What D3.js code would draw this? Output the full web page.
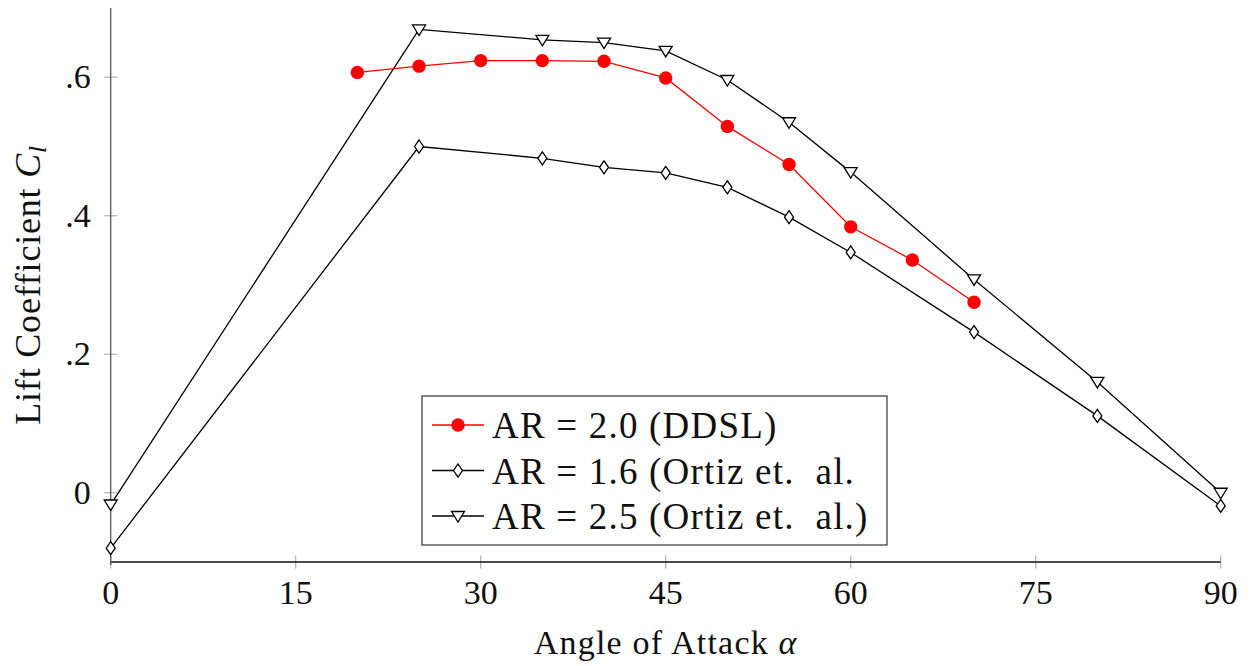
<!DOCTYPE html>
<html>
<head>
<meta charset="utf-8">
<script src="https://cdn.jsdelivr.net/npm/d3@7"></script>
<style>
  body { margin: 0; background: #fff; }
  svg { display: block; font-family: "Liberation Serif", "DejaVu Serif", serif; }
</style>
</head>
<body>
<div id="chart"></div>
<script>
const ddslAngles = [20, 25, 30, 35, 40, 45, 50, 55, 60, 65, 70];
const ddslCl = [0.607, 0.616, 0.624, 0.624, 0.623, 0.599, 0.529, 0.474, 0.384, 0.336, 0.275];

const ortizAngles = [0, 25, 35, 40, 45, 50, 55, 60, 70, 80, 90];
const ortiz16Cl = [-0.080, 0.500, 0.483, 0.470, 0.462, 0.441, 0.398, 0.347, 0.232, 0.111, -0.019];
const ortiz25Cl = [-0.017, 0.669, 0.654, 0.650, 0.638, 0.596, 0.535, 0.463, 0.308, 0.160, 0.000];

const seriesNames = ["AR = 2.0 (DDSL)", "AR = 1.6 (Ortiz et.  al.", "AR = 2.5 (Ortiz et.  al.)"];
const xTicks = [0, 15, 30, 45, 60, 75, 90];
const yTicks = [0, 0.2, 0.4, 0.6];

async function draw() {

  const dimensions = {
    width: 1250,
    height: 666,
    margin: { top: 8, right: 29.3, bottom: 104, left: 110.7 }
  }
  dimensions.boundedWidth = dimensions.width - dimensions.margin.left - dimensions.margin.right;
  dimensions.boundedHeight = dimensions.height - dimensions.margin.top - dimensions.margin.bottom;

  const tickSize = 34;

  const series = [
    { name: seriesNames[0], xs: ddslAngles, ys: ddslCl, color: "#ff0000", marker: "circle" },
    { name: seriesNames[1], xs: ortizAngles, ys: ortiz16Cl, color: "#000", marker: "diamond" },
    { name: seriesNames[2], xs: ortizAngles, ys: ortiz25Cl, color: "#000", marker: "triangle" }
  ];

  const xScale = d3.scaleLinear()
    .domain([0, 90])
    .range([0, dimensions.boundedWidth]);

  const yScale = d3.scaleLinear()
    .domain([-0.1, 0.7])
    .range([dimensions.boundedHeight, 0]);

  const wrapper = d3.select("#chart")
    .append("svg")
    .attr("width", dimensions.width)
    .attr("height", dimensions.height);

  const bounds = wrapper.append("g")
    .attr("transform", `translate(${dimensions.margin.left}, ${dimensions.margin.top})`);

  // axes: only left and bottom, ticks cross the line
  const xAxis = bounds.append("g")
    .attr("transform", `translate(0, ${dimensions.boundedHeight})`);
  xAxis.selectAll("line.tick")
    .data(xTicks)
    .join("line")
    .attr("class", "tick")
    .attr("x1", d => xScale(d)).attr("x2", d => xScale(d))
    .attr("y1", -6.5).attr("y2", 6.5)
    .attr("stroke", "#b0b0b0")
    .attr("stroke-width", 1.2);
  xAxis.append("line")
    .attr("x1", 0).attr("x2", dimensions.boundedWidth)
    .attr("stroke", "#111")
    .attr("stroke-width", 1.3);
  xAxis.selectAll("text")
    .data(xTicks)
    .join("text")
    .attr("x", d => xScale(d))
    .attr("y", 42)
    .attr("text-anchor", "middle")
    .attr("font-size", tickSize)
    .attr("fill", "#111")
    .text(d => d);

  const yAxis = bounds.append("g");
  yAxis.selectAll("line.tick")
    .data(yTicks)
    .join("line")
    .attr("class", "tick")
    .attr("y1", d => yScale(d)).attr("y2", d => yScale(d))
    .attr("x1", -6.5).attr("x2", 6.5)
    .attr("stroke", "#b0b0b0")
    .attr("stroke-width", 1.2);
  yAxis.append("line")
    .attr("y1", 0).attr("y2", dimensions.boundedHeight + 3)
    .attr("stroke", "#555")
    .attr("stroke-width", 1.3);
  yAxis.selectAll("text")
    .data(yTicks)
    .join("text")
    .attr("x", -20)
    .attr("y", d => yScale(d))
    .attr("dy", "0.33em")
    .attr("text-anchor", "end")
    .attr("font-size", tickSize)
    .attr("fill", "#111")
    .text(d => d === 0 ? "0" : d3.format(".1f")(d).replace(/^0/, ""));

  // axis labels
  const xLabel = wrapper.append("text")
    .attr("x", dimensions.margin.left + dimensions.boundedWidth / 2)
    .attr("y", 654)
    .attr("text-anchor", "middle")
    .attr("font-size", 34)
    .attr("letter-spacing", 1.2)
    .attr("fill", "#111");
  xLabel.append("tspan").text("Angle of Attack ");
  xLabel.append("tspan").attr("font-style", "italic").text("α");

  const yLabel = wrapper.append("text")
    .attr("transform", `translate(40, ${dimensions.margin.top + dimensions.boundedHeight / 2}) rotate(-90)`)
    .attr("text-anchor", "middle")
    .attr("font-size", 36)
    .attr("letter-spacing", 0.8)
    .attr("fill", "#111");
  yLabel.append("tspan").text("Lift Coefficient ");
  yLabel.append("tspan").attr("font-style", "italic").text("C");
  yLabel.append("tspan").attr("font-style", "italic").attr("font-size", 25).attr("dy", 6).text("l");

  // markers
  const diamond = "M0,-6.5 L4.5,0 L0,6.5 L-4.5,0 Z";
  const triangle = "M-6.5,-4.5 L6.5,-4.5 L0,6 Z";

  function drawMarker(sel, s) {
    if (s.marker === "circle") {
      sel.append("circle").attr("r", 6.7).attr("fill", s.color);
    } else {
      sel.append("path")
        .attr("d", s.marker === "diamond" ? diamond : triangle)
        .attr("fill", "#fff")
        .attr("stroke", s.color)
        .attr("stroke-width", 1.3);
    }
  }

  const line = d3.line()
    .x(d => xScale(d[0]))
    .y(d => yScale(d[1]));

  const plotOrder = [series[1], series[2], series[0]];
  plotOrder.forEach(s => {
    const pts = s.xs.map((x, i) => [x, s.ys[i]]);
    const g = bounds.append("g");
    g.append("path")
      .attr("d", line(pts))
      .attr("fill", "none")
      .attr("stroke", s.color)
      .attr("stroke-width", 1.3);
    g.selectAll("g.mark")
      .data(pts)
      .join("g")
      .attr("class", "mark")
      .attr("transform", d => `translate(${xScale(d[0])}, ${yScale(d[1])})`)
      .each(function () { drawMarker(d3.select(this), s); });
  });

  // legend
  const legend = wrapper.append("g")
    .attr("transform", "translate(422, 396)");
  legend.append("rect")
    .attr("width", 465)
    .attr("height", 149)
    .attr("fill", "#fff")
    .attr("stroke", "#333")
    .attr("stroke-width", 1.2);

  const item = legend.selectAll("g.item")
    .data(series)
    .join("g")
    .attr("class", "item")
    .attr("transform", (d, i) => `translate(0, ${29 + i * 45.5})`);
  item.append("line")
    .attr("x1", 10).attr("x2", 62)
    .attr("stroke", d => d.color)
    .attr("stroke-width", 1.3);
  item.append("g")
    .attr("transform", "translate(36, 0)")
    .each(function (d) { drawMarker(d3.select(this), d); });
  item.append("text")
    .attr("x", 70)
    .attr("dy", "0.36em")
    .attr("font-size", 37)
    .attr("letter-spacing", 1.2)
    .attr("fill", "#111")
    .style("white-space", "pre")
    .text(d => d.name);
}
draw();
</script>
</body>
</html>
